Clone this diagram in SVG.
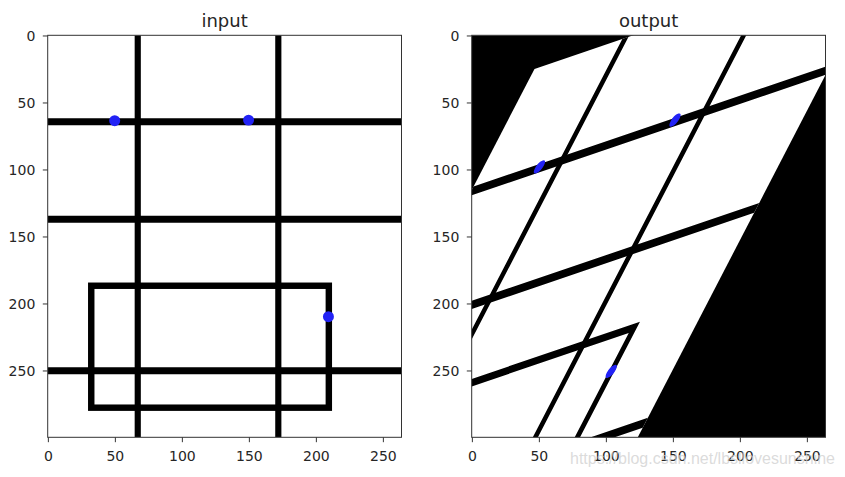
<svg xmlns="http://www.w3.org/2000/svg" width="845" height="477" viewBox="0 0 845 477">
<style>
text { font-family: "DejaVu Sans", sans-serif; fill: #262626; }
.tl { font-size: 14px; }
.xl { text-anchor: middle; }
.yl { text-anchor: end; }
.title { font-size: 18px; text-anchor: middle; }
.frame { fill: none; stroke: #333; stroke-width: 1; }
.tk { stroke: #333; stroke-width: 1; fill: none; }
.ln { stroke: #000; fill: none; stroke-linecap: butt; }
.dot { fill: #2222f5; }
.wm { font-family: "Liberation Sans", Arial, sans-serif; font-size: 16px; fill: #cfcfcf; fill-opacity: 0.75; }
</style>
<defs>
<clipPath id="clipL"><rect x="47.7" y="35.3" width="353.8" height="402"/></clipPath>
<clipPath id="clipR"><rect x="471.7" y="35.3" width="353.8" height="402"/></clipPath>
<g id="scene">
  <rect x="-0.5" y="-0.5" width="264" height="300" fill="#fff"/>
  <path class="ln" stroke-width="4.6" d="M66.7 -0.5V299.5 M171.6 -0.5V299.5"/>
  <path class="ln" stroke-width="5.2" d="M-0.5 64H263.5 M-0.5 136.7H263.5 M-0.5 249.8H263.5"/>
  <rect class="ln" x="32" y="186.4" width="177.3" height="91" stroke-width="4.8"/>
</g>
</defs>

<g id="input-panel">
  <g id="input-image" clip-path="url(#clipL)">
    <g transform="translate(48.37 35.97) scale(1.34)">
      <use href="#scene"/>
      <circle class="dot" cx="49.5" cy="63.2" r="4.1"/>
      <circle class="dot" cx="149.4" cy="62.8" r="4.1"/>
      <circle class="dot" cx="209" cy="209.5" r="4.1"/>
    </g>
  </g>
  <rect class="frame" x="47.7" y="35.3" width="353.8" height="402"/>
  <text class="title" x="224.6" y="26.7">input</text>
  <path class="tk" d="M48.37 437.3V442.2 M115.37 437.3V442.2 M182.37 437.3V442.2 M249.37 437.3V442.2 M316.37 437.3V442.2 M383.37 437.3V442.2"/>
  <path class="tk" d="M42.8 35.97H47.7 M42.8 102.97H47.7 M42.8 169.97H47.7 M42.8 236.97H47.7 M42.8 303.97H47.7 M42.8 370.97H47.7"/>
  <g>
    <text class="tl xl" x="48.37" y="460.5">0</text>
    <text class="tl xl" x="115.37" y="460.5">50</text>
    <text class="tl xl" x="182.37" y="460.5">100</text>
    <text class="tl xl" x="249.37" y="460.5">150</text>
    <text class="tl xl" x="316.37" y="460.5">200</text>
    <text class="tl xl" x="383.37" y="460.5">250</text>
  </g>
  <g>
    <text class="tl yl" x="35.3" y="41.1">0</text>
    <text class="tl yl" x="35.3" y="108.1">50</text>
    <text class="tl yl" x="35.3" y="175.1">100</text>
    <text class="tl yl" x="35.3" y="242.1">150</text>
    <text class="tl yl" x="35.3" y="309.1">200</text>
    <text class="tl yl" x="35.3" y="376.1">250</text>
  </g>
</g>

<g id="output-panel">
  <g id="output-image" clip-path="url(#clipR)">
    <rect x="471.7" y="35.3" width="353.8" height="402" fill="#000"/>
    <g transform="translate(472.37 35.97) scale(1.34) matrix(1.01 -0.344 -0.735 1.418 46.5 25.1)">
      <use href="#scene"/>
      <circle class="dot" cx="49.5" cy="63.2" r="3.4"/>
      <circle class="dot" cx="149.4" cy="62.8" r="3.4"/>
      <circle class="dot" cx="209" cy="209.5" r="3.4"/>
    </g>
  </g>
  <rect class="frame" x="471.7" y="35.3" width="353.8" height="402"/>
  <text class="title" x="648.6" y="26.7">output</text>
  <path class="tk" d="M472.37 437.3V442.2 M539.37 437.3V442.2 M606.37 437.3V442.2 M673.37 437.3V442.2 M740.37 437.3V442.2 M807.37 437.3V442.2"/>
  <path class="tk" d="M466.8 35.97H471.7 M466.8 102.97H471.7 M466.8 169.97H471.7 M466.8 236.97H471.7 M466.8 303.97H471.7 M466.8 370.97H471.7"/>
  <g>
    <text class="tl xl" x="472.37" y="460.5">0</text>
    <text class="tl xl" x="539.37" y="460.5">50</text>
    <text class="tl xl" x="606.37" y="460.5">100</text>
    <text class="tl xl" x="673.37" y="460.5">150</text>
    <text class="tl xl" x="740.37" y="460.5">200</text>
    <text class="tl xl" x="807.37" y="460.5">250</text>
  </g>
  <g>
    <text class="tl yl" x="459.3" y="41.1">0</text>
    <text class="tl yl" x="459.3" y="108.1">50</text>
    <text class="tl yl" x="459.3" y="175.1">100</text>
    <text class="tl yl" x="459.3" y="242.1">150</text>
    <text class="tl yl" x="459.3" y="309.1">200</text>
    <text class="tl yl" x="459.3" y="376.1">250</text>
  </g>
</g>

<text class="wm" x="570" y="464" textLength="265" lengthAdjust="spacingAndGlyphs">https://blog.csdn.net/lbsllovesunshine</text>
</svg>
